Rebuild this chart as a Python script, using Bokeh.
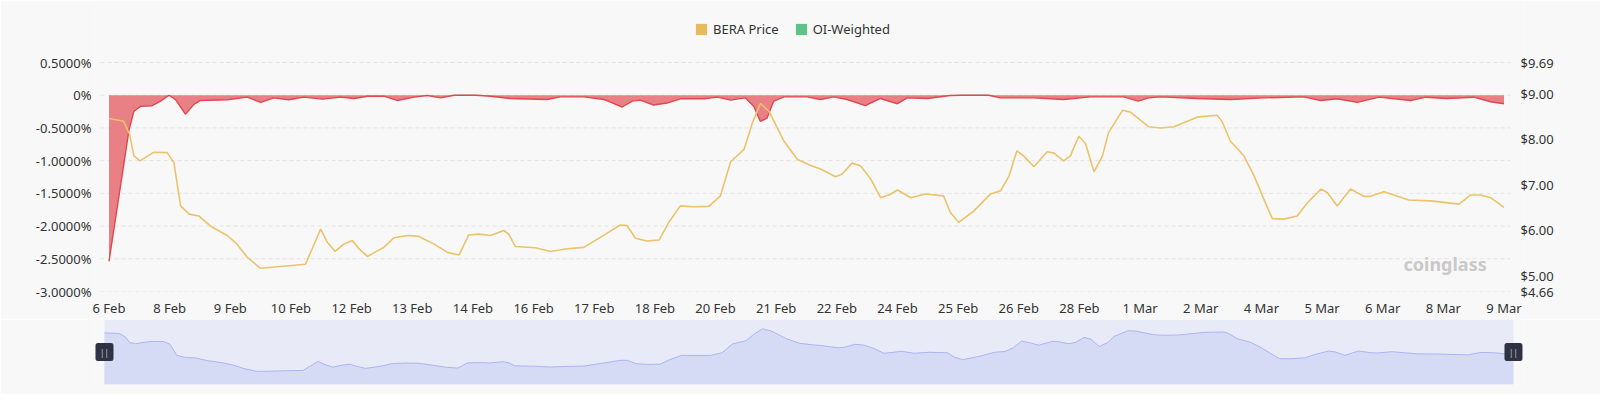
import numpy as np
from bokeh.plotting import figure
from bokeh.models import (Range1d, LinearAxis, FixedTicker, Legend, LegendItem,
                          Label, BoxAnnotation)
from bokeh.layouts import column
from bokeh.embed import file_html
from bokeh.resources import INLINE
from bokeh.core.properties import value

# ---------------- data ----------------
x_labels = ["6 Feb", "8 Feb", "9 Feb", "10 Feb", "12 Feb", "13 Feb", "14 Feb", "16 Feb",
            "17 Feb", "18 Feb", "20 Feb", "21 Feb", "22 Feb", "24 Feb", "25 Feb", "26 Feb",
            "28 Feb", "1 Mar", "2 Mar", "4 Mar", "5 Mar", "6 Mar", "8 Mar", "9 Mar"]

# position along the category axis (in label steps) and BERA price (USD)
price_x = [0, 0.24, 0.34, 0.41, 0.51, 0.74, 0.96, 1.07, 1.18, 1.32,
           1.48, 1.67, 1.95, 2.11, 2.28, 2.50, 2.83, 3.24, 3.35, 3.49,
           3.60, 3.73, 3.87, 4.01, 4.12, 4.26, 4.53, 4.70, 4.92, 5.11,
           5.36, 5.58, 5.77, 5.93, 6.10, 6.29, 6.51, 6.59, 6.70, 7.03,
           7.28, 7.55, 7.83, 8.10, 8.43, 8.54, 8.68, 8.87, 9.07, 9.23,
           9.42, 9.64, 9.89, 10.08, 10.25, 10.47, 10.61, 10.74, 10.88, 11.13,
           11.35, 11.57, 11.73, 11.98, 12.09, 12.25, 12.39, 12.56, 12.72, 12.86,
           13.00, 13.22, 13.46, 13.76, 13.87, 14.01, 14.26, 14.53, 14.70, 14.84,
           14.97, 15.08, 15.25, 15.47, 15.58, 15.74, 15.85, 15.99, 16.10, 16.24,
           16.38, 16.48, 16.71, 16.84, 17.14, 17.34, 17.56, 17.94, 18.27, 18.35,
           18.49, 18.71, 18.88, 19.04, 19.18, 19.37, 19.59, 19.76, 19.98, 20.09,
           20.25, 20.47, 20.69, 20.80, 21.02, 21.43, 21.79, 22.26, 22.45, 22.61,
           22.78, 23.0]
price = [8.46, 8.40, 8.11, 7.64, 7.53, 7.72, 7.71, 7.49, 6.54, 6.36,
         6.32, 6.10, 5.89, 5.70, 5.41, 5.17, 5.21, 5.26, 5.60, 6.03,
         5.74, 5.54, 5.70, 5.78, 5.60, 5.43, 5.63, 5.84, 5.89, 5.87,
         5.70, 5.52, 5.46, 5.90, 5.92, 5.89, 6.00, 5.92, 5.65, 5.62,
         5.54, 5.60, 5.63, 5.85, 6.12, 6.11, 5.83, 5.77, 5.79, 6.18,
         6.54, 6.52, 6.53, 6.76, 7.51, 7.78, 8.37, 8.79, 8.62, 7.96,
         7.56, 7.43, 7.35, 7.18, 7.24, 7.48, 7.42, 7.13, 6.72, 6.78,
         6.89, 6.72, 6.80, 6.76, 6.40, 6.18, 6.43, 6.80, 6.87, 7.20,
         7.75, 7.64, 7.40, 7.73, 7.70, 7.53, 7.64, 8.07, 7.91, 7.29,
         7.64, 8.15, 8.64, 8.60, 8.28, 8.25, 8.28, 8.49, 8.53, 8.40,
         7.96, 7.64, 7.20, 6.69, 6.26, 6.25, 6.32, 6.61, 6.91, 6.83,
         6.54, 6.91, 6.75, 6.75, 6.85, 6.67, 6.65, 6.58, 6.78, 6.78,
         6.72, 6.51]

# OI-weighted funding rate (%)
rate_x = [0, 0.33, 0.41, 0.52, 0.71, 0.85, 0.99, 1.10, 1.26, 1.40,
          1.51, 1.95, 2.28, 2.50, 2.72, 2.96, 3.21, 3.52, 3.82, 4.04,
          4.26, 4.53, 4.75, 5.03, 5.25, 5.47, 5.69, 5.80, 6.05, 6.29,
          6.62, 7.22, 7.44, 7.83, 8.16, 8.46, 8.63, 8.76, 8.98, 9.20,
          9.42, 9.81, 10.03, 10.25, 10.49, 10.63, 10.74, 10.85, 10.96, 11.13,
          11.51, 11.73, 11.95, 12.17, 12.47, 12.72, 13.00, 13.16, 13.49, 13.87,
          14.05, 14.50, 14.70, 15.25, 15.74, 16.18, 16.73, 16.97, 17.14, 17.34,
          17.94, 18.49, 19.04, 19.70, 19.98, 20.25, 20.58, 20.94, 21.46, 21.71,
          22.06, 22.50, 22.78, 23.0]
rate = [-2.54, -0.53, -0.245, -0.17, -0.16, -0.09, 0.0, -0.07, -0.29, -0.14,
        -0.08, -0.07, -0.03, -0.11, -0.04, -0.07, -0.03, -0.06, -0.03, -0.05,
        -0.015, -0.015, -0.08, -0.03, -0.005, -0.04, 0.0, 0.008, 0.006, -0.015,
        -0.05, -0.065, -0.025, -0.025, -0.065, -0.18, -0.09, -0.075, -0.15, -0.12,
        -0.055, -0.055, -0.03, -0.075, -0.04, -0.17, -0.40, -0.35, -0.09, -0.025,
        -0.025, -0.065, -0.025, -0.065, -0.16, -0.05, -0.13, -0.04, -0.05, -0.005,
        0.008, 0.006, -0.04, -0.04, -0.065, -0.025, -0.025, -0.09, -0.04, -0.025,
        -0.05, -0.065, -0.04, -0.025, -0.08, -0.055, -0.11, -0.03, -0.08, -0.03,
        -0.05, -0.03, -0.10, -0.13]

rate_ticks = [-3.0, -2.5, -2.0, -1.5, -1.0, -0.5, 0.0, 0.5]
rate_tick_labels = ["-3.0000%", "-2.5000%", "-2.0000%", "-1.5000%", "-1.0000%",
                    "-0.5000%", "0%", "0.5000%"]
price_ticks = [4.66, 5.0, 6.0, 7.0, 8.0, 9.0, 9.69]
price_tick_labels = ["$4.66", "$5.00", "$6.00", "$7.00", "$8.00", "$9.00", "$9.69"]

# ---------------- style ----------------
BG = "#f8f8f8"
FONT = "Noto Sans"
TXT = "#333333"
PRICE_C = "#eac36b"
RED_FILL = "#e8797e"
RED_LINE = "#e0474e"
GREEN = "#5cc389"

# shared frame: x 94..1524 px; main plot frame spans y 0..291 (room for the legend on top)
MAIN_X = (-0.239, 23.338)
RATE_TOP = 1.4476     # the 0.5000% gridline sits 62 px below the top
PRICE_TOP = 11.052    # same height on the price scale
GRID_LO, GRID_HI = -0.140, 23.107   # horizontal extent of the dashed grid

main = figure(width=1600, height=319, output_backend="svg", toolbar_location=None,
              x_range=Range1d(*MAIN_X), y_range=Range1d(rate_ticks[0], RATE_TOP),
              min_border_left=94, min_border_right=76, min_border_top=0,
              min_border_bottom=28, background_fill_color=BG, border_fill_color=BG,
              outline_line_color=None)

main.extra_y_ranges = {"price": Range1d(price_ticks[0], PRICE_TOP)}

# axes
xa = main.xaxis[0]
xa.ticker = FixedTicker(ticks=list(range(len(x_labels))))
xa.major_label_overrides = {i: lab for i, lab in enumerate(x_labels)}
ya = main.yaxis[0]
ya.ticker = FixedTicker(ticks=rate_ticks)
ya.major_label_overrides = {t: lab for t, lab in zip(rate_ticks, rate_tick_labels)}
ra = LinearAxis(y_range_name="price", ticker=FixedTicker(ticks=price_ticks))
ra.major_label_overrides = {t: lab for t, lab in zip(price_ticks, price_tick_labels)}
main.add_layout(ra, "right")

for ax in (xa, ya, ra):
    ax.axis_line_color = None
    ax.major_tick_line_color = None
    ax.minor_tick_line_color = None
    ax.major_tick_out = 0
    ax.major_label_text_font = FONT
    ax.major_label_text_font_size = "13px"
    ax.major_label_text_color = TXT
xa.major_label_standoff = 7
ya.major_label_standoff = 3
ra.major_label_standoff = -4

# dashed horizontal grid at the rate ticks
main.grid.visible = False
main.segment(x0=GRID_LO, x1=GRID_HI, y0=rate_ticks, y1=rate_ticks,
             line_color="#e4e4e4", line_dash="4 3", line_width=1)

# funding area
r_arr = np.array(rate)
neg = np.minimum(r_arr, 0)
pos = np.maximum(r_arr, 0)
main.varea(x=rate_x, y1=0, y2=neg, fill_color=RED_FILL, fill_alpha=0.95)
main.varea(x=rate_x, y1=0, y2=pos, fill_color=GREEN, fill_alpha=0.9)
main.line(rate_x, neg, line_color=RED_LINE, line_width=1.4)

# price line
main.line(price_x, price, y_range_name="price", line_color=PRICE_C, line_width=1.6)

# legend (zero-size swatch glyphs)
r1 = main.quad(left=[0], right=[0], top=[0], bottom=[0], fill_color="#e6bb5c", line_color=None)
r2 = main.quad(left=[0], right=[0], top=[0], bottom=[0], fill_color=GREEN, line_color=None)
legend = Legend(items=[LegendItem(label="BERA Price", renderers=[r1]),
                       LegendItem(label="OI-Weighted", renderers=[r2])],
                location=(600, 253), orientation="horizontal",
                glyph_width=14, glyph_height=14, label_standoff=5, spacing=15,
                padding=0, margin=0, border_line_color=None, background_fill_alpha=0,
                label_text_font=FONT, label_text_font_size="13px",
                label_text_color=TXT, label_height=14)
main.add_layout(legend, "center")

# watermark
main.add_layout(Label(x=1309, y=28, x_units="screen", y_units="screen", text="coinglass",
                      text_font=FONT, text_font_size="18px", text_font_style="bold",
                      text_color="#c9c9c9", text_baseline="alphabetic"))

# ---------------- navigator ----------------
NAV_LO, NAV_HI = 4.06, 9.59
nav = figure(width=1600, height=75, output_backend="svg", toolbar_location=None,
             x_range=Range1d(-0.163, 23.18), y_range=Range1d(NAV_LO, NAV_HI),
             x_axis_location=None, y_axis_location=None,
             min_border_left=94, min_border_right=76, min_border_top=0,
             min_border_bottom=10, background_fill_color=BG, border_fill_color=BG,
             outline_line_color=None)
nav.grid.visible = False
nav.add_layout(BoxAnnotation(left=price_x[0], right=price_x[-1], fill_color="#e8eaf8",
                             fill_alpha=1, line_color=None, level="underlay"))
nav.varea(x=price_x, y1=NAV_LO, y2=price, fill_color="#d6dbf5")
nav.line(price_x, price, line_color="#a9b7ef", line_width=1)
mid = (NAV_LO + NAV_HI) / 2
nav.scatter(x=[price_x[0], price_x[-1]], y=[mid, mid], marker="square", size=13,
            fill_color="#2f3242", line_color="#2f3242", line_width=5, line_join="round")
nav.text(x=[price_x[0], price_x[-1]], y=[mid, mid], text=["||", "||"],
         text_color="#c4c8d4", text_font_size="8px", text_align="center",
         text_baseline="middle", text_font=value(FONT))

layout = column(main, nav)
html = file_html(layout, INLINE)
html = html.replace("<body>", '<body style="background:#f8f8f8;">', 1)
open("out.html", "w").write(html)
